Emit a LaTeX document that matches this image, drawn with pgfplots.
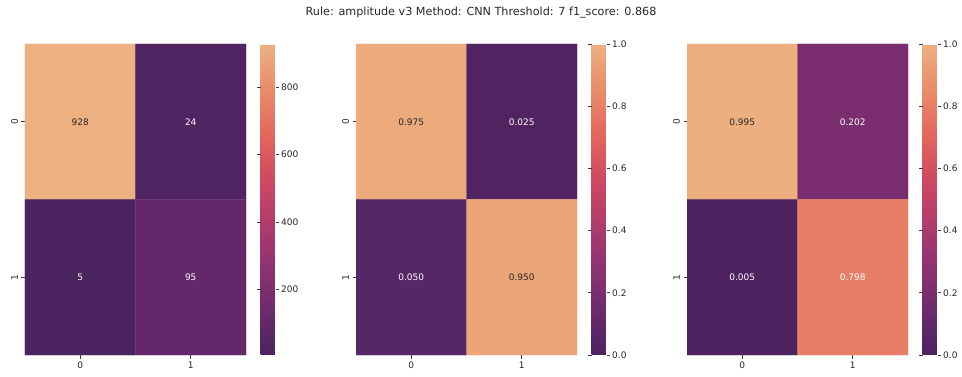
\documentclass[border=0pt]{standalone}
\usepackage{fontspec}
\setmainfont{DejaVu Sans}
\usepackage{pgfplots}
\pgfplotsset{compat=1.18}
\definecolor{tickgray}{RGB}{60,60,60}
\definecolor{annotdark}{RGB}{38,38,38}
\pgfplotsset{
  /pgf/number format/assume math mode=true,
  colormap={flare}{rgb255(0cm)=(75,35,95); rgb255(1cm)=(108,43,109); rgb255(2cm)=(143,51,113); rgb255(3cm)=(177,60,108); rgb255(4cm)=(209,74,97); rgb255(5cm)=(227,104,92); rgb255(6cm)=(233,141,107); rgb255(7cm)=(237,176,129)},
  heat/.style={
    anchor=south west, width=221pt, height=311pt, scale only axis,
    xmin=-0.5, xmax=1.5, ymin=-0.5, ymax=1.5, y dir=reverse,
    axis line style={draw=none},
    xtick={0,1}, ytick={0,1}, xticklabels={0,1}, yticklabels={0,1},
    xtick pos=bottom, ytick pos=left,
    yticklabel style={rotate=90, anchor=south},
    tick align=outside, major tick length=3.5pt,
    tick style={color=tickgray, line width=0.6pt},
    tick label style={font=\fontsize{9}{11}\selectfont, text=annotdark},
    colormap name=flare,
    colorbar,
    colorbar style={
      at={(parent axis.north east)}, anchor=north west, xshift=6pt,
      width=15pt, height=311pt, scale only axis,
      axis line style={draw=none},
      tick align=outside, major tick length=3.5pt,
      tick style={color=tickgray, line width=0.6pt},
      tick label style={font=\fontsize{9}{11}\selectfont, text=annotdark, inner sep=2pt},
    },
  },
  annot/.style={only marks, mark=*, mark size=0.1pt, mark options={draw opacity=0, fill opacity=0},
    nodes near coords, point meta=explicit symbolic,
    every node near coord/.append style={anchor=center, text=#1, opacity=1, text opacity=1, fill opacity=1, font=\fontsize{9}{11}\selectfont}},
}
\begin{document}
\begin{tikzpicture}
\path[use as bounding box] (0,0) rectangle (962pt,377pt);
\node[font=\fontsize{11.2}{13}\selectfont, text=annotdark] at (481pt,364pt) {Rule: amplitude v3 Method: CNN Threshold: 7 f1\_score: 0.868};

% Panel 1: counts
\begin{axis}[heat, at={(25pt,22pt)}, point meta min=5, point meta max=928,
  colorbar style={ytick={200,400,600,800}}]
\addplot[matrix plot*, mesh/cols=2, mesh/rows=2, point meta=explicit] table[meta=c] {
x y c
0 0 928
1 0 24
0 1 5
1 1 95
};
\addplot[annot=annotdark] table[meta=t] {
x y t
0 0 928
};
\addplot[annot=white] table[meta=t] {
x y t
1 0 24
0 1 5
1 1 95
};
\end{axis}

% Panel 2: normalized by row
\begin{axis}[heat, at={(356pt,22pt)}, point meta min=0, point meta max=1,
  colorbar style={ytick={0,0.2,0.4,0.6,0.8,1}, yticklabel style={/pgf/number format/.cd, fixed, fixed zerofill, precision=1}}]
\addplot[matrix plot*, mesh/cols=2, mesh/rows=2, point meta=explicit] table[meta=c] {
x y c
0 0 0.975
1 0 0.025
0 1 0.050
1 1 0.950
};
\addplot[annot=annotdark] table[meta=t] {
x y t
0 0 0.975
1 1 0.950
};
\addplot[annot=white] table[meta=t] {
x y t
1 0 0.025
0 1 0.050
};
\end{axis}

% Panel 3: normalized by column
\begin{axis}[heat, at={(687pt,22pt)}, point meta min=0, point meta max=1,
  colorbar style={ytick={0,0.2,0.4,0.6,0.8,1}, yticklabel style={/pgf/number format/.cd, fixed, fixed zerofill, precision=1}}]
\addplot[matrix plot*, mesh/cols=2, mesh/rows=2, point meta=explicit] table[meta=c] {
x y c
0 0 0.995
1 0 0.202
0 1 0.005
1 1 0.798
};
\addplot[annot=annotdark] table[meta=t] {
x y t
0 0 0.995
};
\addplot[annot=white] table[meta=t] {
x y t
1 0 0.202
0 1 0.005
1 1 0.798
};
\end{axis}
\end{tikzpicture}
\end{document}
